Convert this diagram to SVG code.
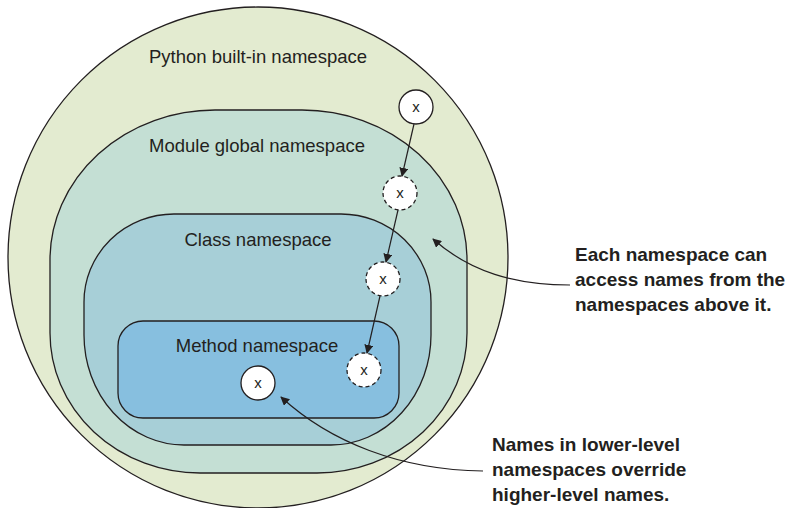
<svg xmlns="http://www.w3.org/2000/svg" width="792" height="508" viewBox="0 0 792 508">
<defs>
<marker id="ah" viewBox="0 0 10 10" refX="9" refY="5" markerWidth="9" markerHeight="9" markerUnits="userSpaceOnUse" orient="auto">
<path d="M0,0 L10,5 L0,10 z" fill="#231f20"/>
</marker>
<style>
.ns{stroke:#231f20;stroke-width:1.3}
.lbl{font-family:"Liberation Sans",Arial,sans-serif;font-size:18.5px;fill:#231f20;text-anchor:middle}
.x{font-family:"Liberation Sans",Arial,sans-serif;font-size:15px;fill:#231f20;text-anchor:middle}
.c{fill:#fff;stroke:#231f20;stroke-width:1.3}
.d{stroke-dasharray:4 3}
.note{font-family:"Liberation Sans",Arial,sans-serif;font-size:19px;font-weight:bold;fill:#231f20}
.conn{fill:none;stroke:#231f20;stroke-width:1.2;marker-end:url(#ah)}
</style>
</defs>
<rect width="792" height="508" fill="#fff"/>
<g id="builtin">
<ellipse class="ns" cx="258" cy="257.5" rx="250" ry="250.5" fill="#e3ebd0"/>
<text class="lbl" x="258" y="63">Python built-in namespace</text>
</g>
<g id="module">
<path class="ns" fill="#c4dfd4" d="M215,110 L302,110 A165,150 0 0 1 467,260 L467,333 A150,140 0 0 1 317,473 L200,473 A150,140 0 0 1 50,333 L50,260 A165,150 0 0 1 215,110 Z"/>
<text class="lbl" x="257" y="152">Module global namespace</text>
</g>
<g id="class">
<path class="ns" fill="#a7cfd7" d="M174,214 L341,214 A90,88 0 0 1 431,302 L431,335 A100,110 0 0 1 331,445 L184,445 A100,110 0 0 1 84,335 L84,302 A90,88 0 0 1 174,214 Z"/>
<text class="lbl" x="258" y="246">Class namespace</text>
</g>
<g id="method">
<rect class="ns" x="118" y="321" width="281" height="97" rx="25" ry="25" fill="#87bfdf"/>
<text class="lbl" x="257" y="352">Method namespace</text>
</g>
<g id="x1"><circle class="c" cx="416" cy="107" r="17"/><text class="x" x="416" y="112">x</text></g>
<g id="x2"><circle class="c d" cx="400" cy="193" r="17"/><text class="x" x="400" y="198">x</text></g>
<g id="x3"><circle class="c d" cx="383" cy="279" r="17"/><text class="x" x="383" y="284">x</text></g>
<g id="x4"><circle class="c d" cx="364" cy="370" r="17"/><text class="x" x="364" y="375">x</text></g>
<g id="x5"><circle class="c" cx="258" cy="383" r="17"/><text class="x" x="258" y="388">x</text></g>
<g id="connectors">
<line class="conn" x1="414" y1="124" x2="402" y2="176"/>
<line class="conn" x1="398" y1="210" x2="386" y2="262"/>
<line class="conn" x1="380" y1="296" x2="367" y2="353"/>
<path class="conn" d="M570,285 C515,285 470,272 433,239"/>
<path class="conn" d="M483,471 C400,470 330,442 281,397"/>
</g>
<g id="note1">
<text class="note" x="575" y="261">Each namespace can</text>
<text class="note" x="575" y="286">access names from the</text>
<text class="note" x="575" y="311">namespaces above it.</text>
</g>
<g id="note2">
<text class="note" x="492" y="451">Names in lower-level</text>
<text class="note" x="492" y="476">namespaces override</text>
<text class="note" x="492" y="501">higher-level names.</text>
</g>
</svg>
